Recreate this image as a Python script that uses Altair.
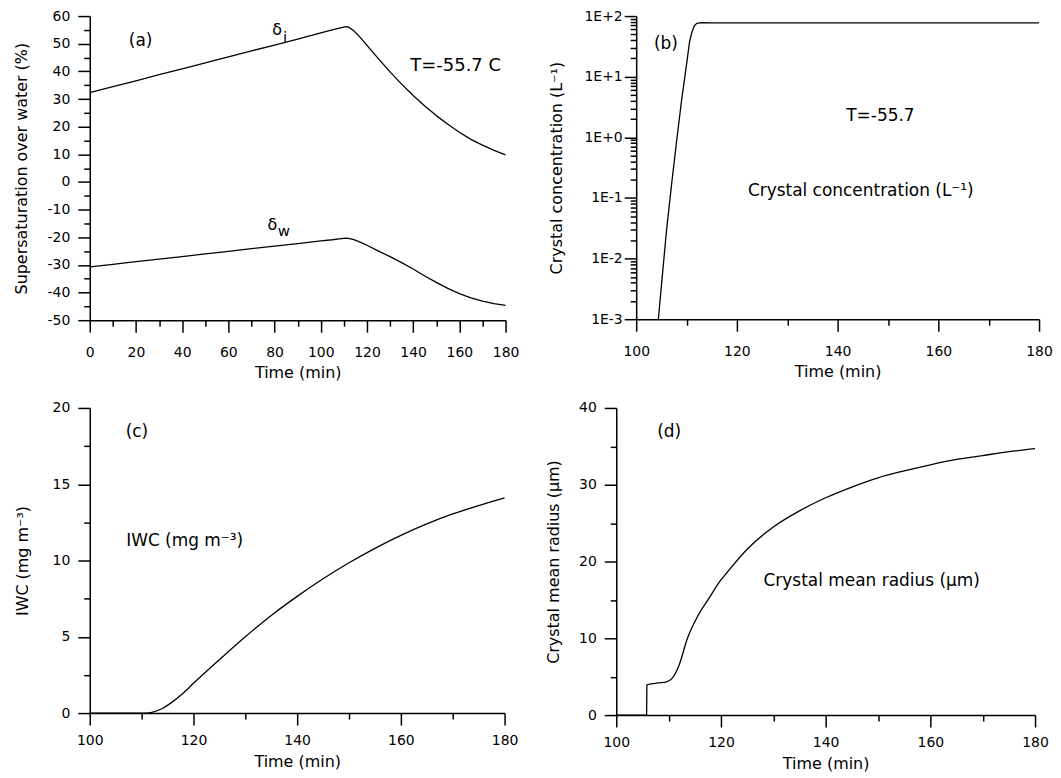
import altair as alt
import pandas as pd

# ---------------- data ----------------
# Panel (a): supersaturation over water (%) vs time (min)
t_a = [0, 10, 20, 30, 40, 50, 60, 70, 80, 90, 100, 105, 108, 110, 111, 112, 114, 116,
       118, 120, 125, 130, 135, 140, 145, 150, 155, 160, 165, 170, 175, 180]
delta_i = [32.3, 34.5, 36.6, 38.8, 40.9, 43.1, 45.2, 47.4, 49.5, 51.7, 53.9, 55.0, 55.6,
           56.0, 56.2, 56.0, 54.9, 53.3, 51.4, 49.4, 44.5, 39.8, 35.4, 31.3, 27.5, 24.0,
           20.9, 18.0, 15.4, 13.3, 11.4, 9.8]
delta_w = [-30.7, -29.8, -28.8, -27.9, -27.0, -26.0, -25.1, -24.1, -23.2, -22.3, -21.3,
           -20.9, -20.6, -20.4, -20.3, -20.4, -20.8, -21.4, -22.1, -22.9, -25.0, -27.0,
           -29.2, -31.5, -34.0, -36.3, -38.5, -40.4, -41.9, -43.1, -44.0, -44.6]

# Panel (b): crystal concentration (L^-1), log scale
t_b = [104.4, 105, 106, 107, 108, 109, 110, 110.6, 111, 111.5, 112, 113, 115, 120, 140, 160, 180]
n_b = [0.001, 0.0035, 0.028, 0.16, 0.83, 4.0, 16, 38, 52, 68, 76, 78, 77, 77, 77, 77, 77]

# Panel (c): IWC (mg m^-3)
t_c = [100, 105, 110, 111, 112, 114, 116, 118, 120, 125, 130, 135, 140, 145, 150, 155,
       160, 165, 170, 175, 180]
iwc = [0, 0, 0, 0, 0.05, 0.3, 0.75, 1.3, 1.95, 3.5, 5.0, 6.4, 7.65, 8.8, 9.85, 10.8,
       11.65, 12.4, 13.05, 13.6, 14.1]

# Panel (d): crystal mean radius (um)
t_d = [100, 105.8, 105.85, 107, 108, 109.5, 110.7, 112, 113.6, 115.5, 117.7, 120, 121.2,
       125, 130, 135, 140, 145, 150, 155, 160, 165, 170, 175, 180]
r_d = [0, 0, 3.94, 4.1, 4.2, 4.3, 4.8, 6.5, 10.0, 12.8, 15.2, 17.6, 18.6, 21.6, 24.5,
       26.6, 28.3, 29.7, 30.9, 31.8, 32.6, 33.3, 33.8, 34.3, 34.7]

# Annotations (text, x, y) per panel
ann_a_text = ["(a)", "T=-55.7 C"]
ann_a_x = [22, 158.4]
ann_a_y = [51, 42]
sym_a_text = ["δ", "δ"]
sym_a_x = [81.1, 79.0]
sym_a_y = [55.0, -15.7]
sub_a_text = ["i", "w"]
sub_a_x = [84.6, 84.0]
sub_a_y = [52.6, -17.8]

ann_b_text = ["(b)", "T=-55.7", "Crystal concentration (L⁻¹)"]
ann_b_x = [105.9, 148.5, 144.6]
ann_b_y = [34, 2.24, 0.13]

ann_c_text = ["(c)", "IWC (mg m⁻³)"]
ann_c_x = [109.1, 118.3]
ann_c_y = [18.4, 11.3]

ann_d_text = ["(d)", "Crystal mean radius (µm)"]
ann_d_x = [110.1, 148.8]
ann_d_y = [36.9, 17.4]

# tick positions
x_major_a = list(range(0, 181, 20))
x_minor_a = list(range(10, 181, 20))
y_major_a = list(range(-50, 61, 10))
y_minor_a = list(range(-45, 60, 10))
x_major_t = list(range(100, 181, 20))
x_minor_t = list(range(110, 181, 20))
y_major_b = [0.001, 0.01, 0.1, 1.0, 10.0, 100.0]
y_minor_b = [k * 10.0 ** e for e in range(-3, 2) for k in range(2, 10)]
y_major_c = [0, 5, 10, 15, 20]
y_minor_c = [2.5, 7.5, 12.5, 17.5]
y_major_d = [0, 10, 20, 30, 40]
y_minor_d = [5, 15, 25, 35]

FONT = "DejaVu Sans"
MAJ = 12
MIN = 6


def major_axis(values, title, orient, **kw):
    return alt.Axis(values=values, title=title, orient=orient, ticks=True, tickSize=MAJ,
                    tickColor="black", tickWidth=1.5, tickOpacity=1,
                    labelFlush=False, labelOverlap=False, **kw)


def minor_axis(values, orient):
    return alt.Axis(values=values, title=None, orient=orient, ticks=True, tickSize=MIN,
                    tickColor="black", tickWidth=1.5, tickOpacity=1,
                    labels=False, domain=False)


def text_layer(texts, xs, ys, xscale, yscale, size=17):
    df = pd.DataFrame({"text": texts, "x": xs, "y": ys})
    return alt.Chart(df).mark_text(font=FONT, fontSize=size, color="black").encode(
        x=alt.X("x:Q", scale=xscale, axis=None),
        y=alt.Y("y:Q", scale=yscale, axis=None),
        text="text:N",
    )


def line_layers(df, xf, yf, xscale, yscale, xmaj, xmin, ymaj, ymin, ytitle,
                ylabel_kw, xlabel_kw, extra=None, interp="linear"):
    enc_extra = extra or {}
    main = alt.Chart(df).mark_line(color="black", strokeWidth=1.3, strokeJoin="round",
                                   interpolate=interp).encode(
        x=alt.X(xf, scale=xscale,
                axis=major_axis(xmaj, "Time (min)", "bottom",
                                labelExpr="toString(datum.value)", **xlabel_kw)),
        y=alt.Y(yf, scale=yscale, axis=major_axis(ymaj, ytitle, "left", **ylabel_kw)),
        **enc_extra,
    )
    ghost = alt.Chart(df).mark_line(strokeOpacity=0).encode(
        x=alt.X(xf, scale=xscale, axis=minor_axis(xmin, "bottom")),
        y=alt.Y(yf, scale=yscale, axis=minor_axis(ymin, "left")),
        **enc_extra,
    )
    return [main, ghost]


TOP_X = dict(labelPadding=13, titlePadding=5)
BOT_X = dict(labelPadding=9, titlePadding=6)

# ---------------- panel (a) ----------------
xs_a = alt.Scale(domain=[0, 180], nice=False, zero=False)
ys_a = alt.Scale(domain=[-50, 60], nice=False, zero=False)
df_a = pd.concat([
    pd.DataFrame({"t": t_a, "v": delta_i, "s": "i"}),
    pd.DataFrame({"t": t_a, "v": delta_w, "s": "w"}),
])
panel_a = alt.layer(
    *line_layers(df_a, "t:Q", "v:Q", xs_a, ys_a, x_major_a, x_minor_a, y_major_a, y_minor_a,
                 "Supersaturation over water (%)",
                 dict(labelPadding=8, titlePadding=18, labelExpr="toString(datum.value)"),
                 TOP_X, extra={"detail": "s:N"}),
    text_layer(ann_a_text[:1], ann_a_x[:1], ann_a_y[:1], xs_a, ys_a, 17),
    text_layer(ann_a_text[1:], ann_a_x[1:], ann_a_y[1:], xs_a, ys_a, 18),
    text_layer(sym_a_text, sym_a_x, sym_a_y, xs_a, ys_a, 16),
    text_layer(sub_a_text, sub_a_x, sub_a_y, xs_a, ys_a, 15),
).resolve_axis(x="independent", y="independent").properties(width=417, height=305)

# ---------------- panel (b) ----------------
xs_b = alt.Scale(domain=[100, 180], nice=False, zero=False)
ys_b = alt.Scale(type="log", domain=[0.001, 100], nice=False)
df_b = pd.DataFrame({"t": t_b, "n": n_b})
log_label = ("'1E' + (round(log(datum.value) / LN10) >= 0 ? '+' : '') "
             "+ toString(round(log(datum.value) / LN10))")
panel_b = alt.layer(
    *line_layers(df_b, "t:Q", "n:Q", xs_b, ys_b, x_major_t, x_minor_t, y_major_b, y_minor_b,
                 "Crystal concentration (L⁻¹)",
                 dict(labelPadding=2, titlePadding=20, labelExpr=log_label),
                 TOP_X),
    text_layer(ann_b_text, ann_b_x, ann_b_y, xs_b, ys_b, 17),
).resolve_axis(x="independent", y="independent").properties(width=404, height=304)

# ---------------- panel (c) ----------------
xs_c = alt.Scale(domain=[100, 180], nice=False, zero=False)
ys_c = alt.Scale(domain=[0, 20], nice=False, zero=False)
df_c = pd.DataFrame({"t": t_c, "v": iwc})
panel_c = alt.layer(
    *line_layers(df_c, "t:Q", "v:Q", xs_c, ys_c, x_major_t, x_minor_t, y_major_c, y_minor_c,
                 "IWC (mg m⁻³)",
                 dict(labelPadding=8, titlePadding=22, labelExpr="toString(datum.value)"),
                 BOT_X, interp="monotone"),
    text_layer(ann_c_text, ann_c_x, ann_c_y, xs_c, ys_c, 17),
).resolve_axis(x="independent", y="independent").properties(width=416, height=306)

# ---------------- panel (d) ----------------
xs_d = alt.Scale(domain=[100, 180], nice=False, zero=False)
ys_d = alt.Scale(domain=[0, 40], nice=False, zero=False)
df_d = pd.DataFrame({"t": t_d, "v": r_d})
panel_d = alt.layer(
    *line_layers(df_d, "t:Q", "v:Q", xs_d, ys_d, x_major_t, x_minor_t, y_major_d, y_minor_d,
                 "Crystal mean radius (µm)",
                 dict(labelPadding=8, titlePadding=17, labelExpr="toString(datum.value)"),
                 BOT_X, interp="monotone"),
    text_layer(ann_d_text, ann_d_x, ann_d_y, xs_d, ys_d, 17),
).resolve_axis(x="independent", y="independent").properties(width=420, height=308)

top = alt.hconcat(panel_a, panel_b, spacing=28)
bottom = alt.hconcat(panel_c, panel_d, spacing=27)

chart = (
    alt.vconcat(top, bottom, spacing=21)
    .properties(padding={"left": 5, "top": 0, "right": 0, "bottom": 0})
    .configure_view(stroke=None)
    .configure_axis(
        grid=False,
        domainColor="black",
        domainWidth=1.5,
        ticks=True,
        tickColor="black",
        tickWidth=1.5,
        labelColor="black",
        titleColor="black",
        labelFont=FONT,
        titleFont=FONT,
        labelFontSize=14,
        titleFontSize=16,
        titleFontWeight="normal",
    )
)

chart.save("out.html", embed_options={"renderer": "svg", "actions": False})
